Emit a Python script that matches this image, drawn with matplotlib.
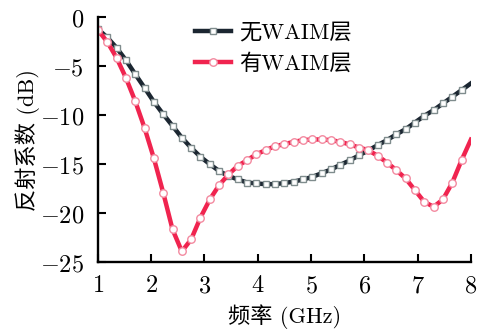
import numpy as np
import matplotlib.pyplot as plt
from matplotlib.ticker import FuncFormatter

plt.rcParams['mathtext.fontset'] = 'cm'
plt.rcParams['axes.unicode_minus'] = False
txt_font = ['cmr10', 'Noto Sans CJK SC']

# frequency sweep (GHz)
freq = [1.000, 1.175, 1.350, 1.525, 1.700, 1.875, 2.050, 2.225, 2.400, 2.575,
        2.750, 2.925, 3.100, 3.275, 3.450, 3.625, 3.800, 3.975, 4.150, 4.325,
        4.500, 4.675, 4.850, 5.025, 5.200, 5.375, 5.550, 5.725, 5.900, 6.075,
        6.250, 6.425, 6.600, 6.775, 6.950, 7.125, 7.300, 7.475, 7.650, 7.825,
        8.000]

# reflection coefficient (dB), without WAIM layer
s11_no = [-1.22, -2.07, -3.13, -4.39, -5.82, -7.21, -8.64, -9.90, -11.09, -12.30,
          -13.33, -14.25, -15.00, -15.70, -16.20, -16.56, -16.87, -16.97, -17.04, -17.04,
          -16.92, -16.78, -16.56, -16.30, -15.92, -15.54, -15.07, -14.62, -14.10, -13.60,
          -13.06, -12.55, -11.96, -11.43, -10.75, -10.07, -9.49, -8.81, -8.13, -7.45,
          -6.76]

# reflection coefficient (dB), with WAIM layer
s11_waim = [-1.33, -2.52, -4.15, -6.19, -8.57, -11.30, -14.40, -17.90, -21.65, -23.90,
            -22.67, -20.44, -18.60, -17.14, -16.05, -15.17, -14.60, -13.98, -13.57, -13.16,
            -12.96, -12.72, -12.55, -12.48, -12.48, -12.55, -12.72, -12.99, -13.30, -13.57,
            -14.15, -14.83, -15.61, -16.46, -17.65, -18.84, -19.35, -18.60, -16.90, -14.60,
            -12.50]

labels = ['无WAIM层', '有WAIM层']

fig = plt.figure(figsize=(4.8, 3.29), dpi=100)
ax = fig.add_axes([0.204, 0.203, 0.777, 0.745])

ax.plot(freq, s11_no, color='#1b2631', lw=3.2, marker='s', ms=5.0,
        mfc='white', mec='#7f8c8d', mew=1.0, markevery=slice(0, -1), label=labels[0])
ax.plot(freq, s11_waim, color='#f0244f', lw=3.2, marker='o', ms=5.4,
        mfc='white', mec='#f38aa0', mew=1.0, markevery=slice(0, -1), label=labels[1])

ax.set_xlim(1, 8)
ax.set_ylim(-25, 0)
ax.set_xticks(np.arange(1, 9))
ax.set_yticks(np.arange(-25, 1, 5))
ax.xaxis.set_major_formatter(FuncFormatter(lambda v, p: f'${v:g}$'))
ax.yaxis.set_major_formatter(FuncFormatter(lambda v, p: f'${v:g}$'))

for s in ['top', 'right']:
    ax.spines[s].set_visible(False)
for s in ['left', 'bottom']:
    ax.spines[s].set_linewidth(1.7)
ax.tick_params(direction='in', length=5.5, width=1.5, labelsize=17.5)
ax.tick_params(axis='x', pad=8)
ax.tick_params(axis='y', pad=10)

ax.set_xlabel('频率 (GHz)', family=txt_font, fontsize=16, labelpad=5)
ax.set_ylabel('反射系数 (dB)', family=txt_font, fontsize=16, labelpad=0)

ax.legend(loc='upper left', bbox_to_anchor=(0.208, 1.058), frameon=False,
          prop={'family': txt_font, 'size': 16}, handlelength=1.6,
          handletextpad=0.36, labelspacing=0.44, borderpad=0.4)

fig.savefig('out.png', dpi=100)
